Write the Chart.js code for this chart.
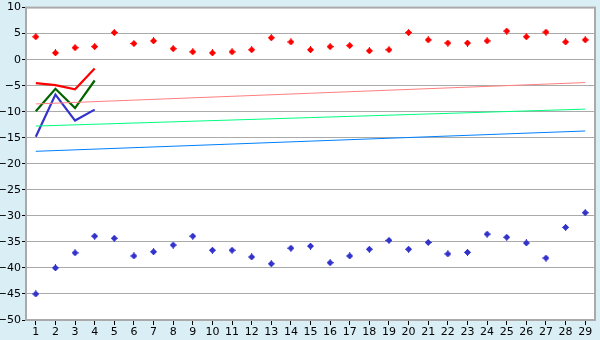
<!DOCTYPE html>
<html>
<head>
<meta charset="utf-8">
<script src="https://cdn.jsdelivr.net/npm/chart.js@4"></script>
<style>
html,body{margin:0;padding:0;background:#daeef5;}
#wrap{width:600px;height:340px;}
</style>
</head>
<body>
<div id="wrap"><canvas id="c" width="600" height="340"></canvas></div>
<script>
const categories = ['1','2','3','4','5','6','7','8','9','10','11','12','13','14','15','16','17','18','19','20','21','22','23','24','25','26','27','28','29'];
const redPoints = [4.4,1.3,2.3,2.5,5.2,3.1,3.6,2.1,1.5,1.3,1.5,1.9,4.2,3.4,1.9,2.5,2.7,1.7,1.9,5.2,3.8,3.2,3.2,3.6,5.5,4.4,5.3,3.4,3.8];
const bluePoints = [-45,-40,-37.1,-33.9,-34.3,-37.7,-36.9,-35.6,-33.9,-36.6,-36.6,-37.9,-39.2,-36.2,-35.8,-39.0,-37.7,-36.4,-34.7,-36.4,-35.1,-37.3,-37.0,-33.5,-34.1,-35.2,-38.1,-32.2,-29.4];
const redLine = [-4.5,-4.9,-5.7,-1.7];
const greenLine = [-9.9,-5.6,-9.3,-4.0];
const blueLine = [-14.8,-6.7,-11.7,-9.6];
const pinkTrend = [-8.5,-4.4];
const greenTrend = [-12.75,-9.5];
const blueTrend = [-17.6,-13.7];
const yTicks = [10,5,0,-5,-10,-15,-20,-25,-30,-35,-40,-45,-50];

function trend(pair){
  const a = categories.map(()=>null);
  a[0]=pair[0]; a[a.length-1]=pair[1];
  return a;
}
function pad(arr){
  return categories.map((_,i)=> i<arr.length ? arr[i] : null);
}
function marker(color){
  const c = document.createElement('canvas');
  c.width=7; c.height=7;
  const g = c.getContext('2d');
  g.fillStyle=color;
  g.fillRect(3,0,1,7);
  g.fillRect(0,3,7,1);
  g.fillRect(2,1,3,5);
  g.fillRect(1,2,5,3);
  return c;
}

const borderPlugin = {
  id:'bg',
  beforeDraw(chart){
    const {ctx, chartArea:a} = chart;
    ctx.save();
    ctx.fillStyle='#daeef5';
    ctx.fillRect(0,0,chart.width,chart.height);
    ctx.fillStyle='#ffffff';
    ctx.fillRect(a.left,a.top,a.right-a.left,a.bottom-a.top);
    ctx.restore();
  },
  afterDatasetsDraw(chart){
    const {ctx, chartArea:a} = chart;
    ctx.save();
    ctx.strokeStyle='#aaaaaa';
    ctx.lineWidth=2;
    ctx.strokeRect(a.left,a.top,a.right-a.left,a.bottom-a.top);
    ctx.restore();
  }
};

const lineDs = (data,color,w)=>({type:'line',data,borderColor:color,backgroundColor:color,borderWidth:w,pointRadius:0,spanGaps:true,tension:0,fill:false});
const ptDs = (data,color)=>({type:'line',data,showLine:false,pointRadius:3,pointHoverRadius:3,pointBorderWidth:0,pointBackgroundColor:color,borderColor:color,pointStyle:marker(color)});

new Chart(document.getElementById('c'),{
  type:'line',
  data:{
    labels:categories,
    datasets:[
      lineDs(trend(pinkTrend),'#ff8080',1),
      lineDs(trend(greenTrend),'#00ff80',1),
      lineDs(trend(blueTrend),'#0080ff',1),
      lineDs(pad(redLine),'#ff0000',2.2),
      lineDs(pad(greenLine),'#006400',2.2),
      lineDs(pad(blueLine),'#3333cc',2.2),
      ptDs(redPoints,'#ff0000'),
      ptDs(bluePoints,'#3333cc')
    ]
  },
  options:{
    responsive:false,
    animation:false,
    events:[],
    layout:{padding:{top:5,right:5,left:0,bottom:0}},
    plugins:{legend:{display:false},tooltip:{enabled:false}},
    scales:{
      x:{
        offset:true,
        grid:{display:true,drawOnChartArea:false,drawTicks:true,tickLength:5,tickColor:'#000',tickWidth:1},
        border:{display:true,color:'#aaaaaa',width:1},
        ticks:{color:'#000',font:{family:'DejaVu Sans',size:11},padding:1,maxRotation:0,autoSkip:false},
        afterFit(s){s.height=20;}
      },
      y:{
        min:-50,max:10,
        afterBuildTicks(s){s.ticks=yTicks.map(v=>({value:v}));},
        grid:{color:'#aaaaaa',lineWidth:1,drawTicks:true,tickLength:4,tickColor:'#000'},
        border:{display:true,color:'#aaaaaa',width:1},
        ticks:{color:'#000',font:{family:'DejaVu Sans',size:11},padding:1,callback:v=>String(v).replace('-','\u2212')},
        afterFit(s){s.width=26;}
      }
    }
  },
  plugins:[borderPlugin]
});
</script>
</body>
</html>
